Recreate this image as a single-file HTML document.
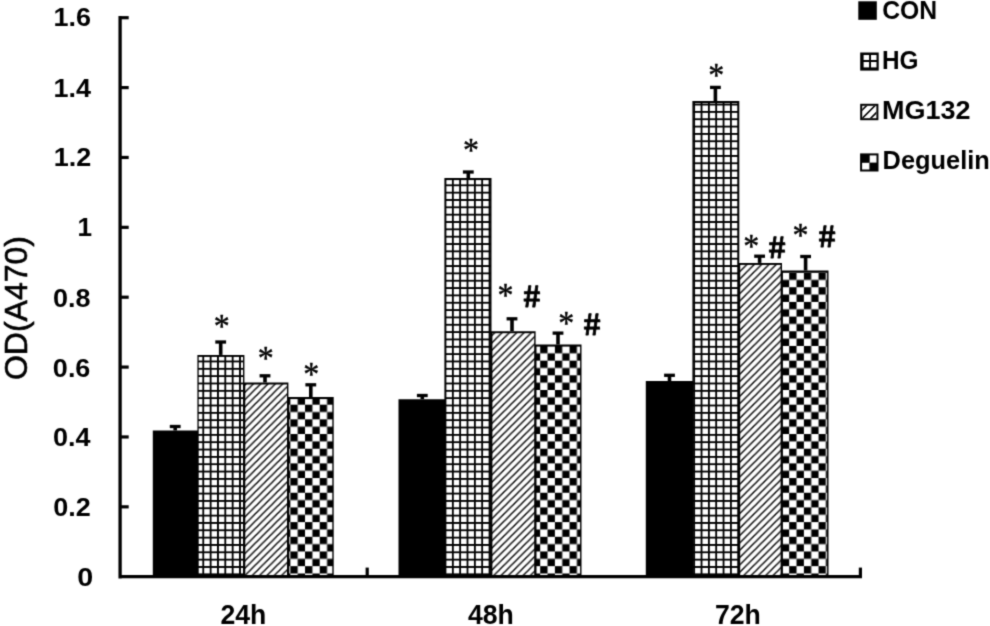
<!DOCTYPE html><html><head><meta charset="utf-8"><style>html,body{margin:0;padding:0;background:#fff;width:990px;height:626px;overflow:hidden}svg{display:block}</style></head><body>
<svg width="990" height="626" viewBox="0 0 990 626">
<filter id="soft" x="0" y="0" width="990" height="626" filterUnits="userSpaceOnUse" color-interpolation-filters="sRGB"><feConvolveMatrix order="3" kernelMatrix="0.03 0.1 0.03 0.1 0.48 0.1 0.03 0.1 0.03" edgeMode="duplicate"/></filter><g filter="url(#soft)">
<rect width="990" height="626" fill="#fff"/>
<defs>
<pattern id="p1" patternUnits="userSpaceOnUse" width="7.34" height="7.34" x="204.2" y="567.9"><rect width="7.34" height="7.34" fill="#000"/><rect width="5.5" height="5.5" fill="#fff"/></pattern>
<pattern id="p5" patternUnits="userSpaceOnUse" width="7.34" height="7.34" x="446.4" y="567.9"><rect width="7.34" height="7.34" fill="#000"/><rect width="5.5" height="5.5" fill="#fff"/></pattern>
<pattern id="p9" patternUnits="userSpaceOnUse" width="7.34" height="7.34" x="695.1" y="567.9"><rect width="7.34" height="7.34" fill="#000"/><rect width="5.5" height="5.5" fill="#fff"/></pattern>
<pattern id="p3" patternUnits="userSpaceOnUse" width="14.68" height="14.68" x="290.36" y="536.8"><rect width="14.68" height="14.68" fill="#fff"/><rect width="7.34" height="7.34" fill="#000"/><rect x="7.34" y="7.34" width="7.34" height="7.34" fill="#000"/></pattern>
<pattern id="p7" patternUnits="userSpaceOnUse" width="14.68" height="14.68" x="540.2" y="536.8"><rect width="14.68" height="14.68" fill="#fff"/><rect width="7.34" height="7.34" fill="#000"/><rect x="7.34" y="7.34" width="7.34" height="7.34" fill="#000"/></pattern>
<pattern id="p11" patternUnits="userSpaceOnUse" width="14.68" height="14.68" x="789.2" y="536.8"><rect width="14.68" height="14.68" fill="#fff"/><rect width="7.34" height="7.34" fill="#000"/><rect x="7.34" y="7.34" width="7.34" height="7.34" fill="#000"/></pattern>
<pattern id="p2" patternUnits="userSpaceOnUse" width="7.33" height="7.33" x="6.820" y="0"><rect width="7.33" height="7.33" fill="#fff"/><path d="M-2,9.33 L9.33,-2 M-2,2 L2,-2 M5.33,9.33 L9.33,5.33" stroke="#000" stroke-width="1.45" fill="none"/></pattern>
<pattern id="p6" patternUnits="userSpaceOnUse" width="7.33" height="7.33" x="6.410" y="0"><rect width="7.33" height="7.33" fill="#fff"/><path d="M-2,9.33 L9.33,-2 M-2,2 L2,-2 M5.33,9.33 L9.33,5.33" stroke="#000" stroke-width="1.45" fill="none"/></pattern>
<pattern id="p10" patternUnits="userSpaceOnUse" width="7.33" height="7.33" x="7.190" y="0"><rect width="7.33" height="7.33" fill="#fff"/><path d="M-2,9.33 L9.33,-2 M-2,2 L2,-2 M5.33,9.33 L9.33,5.33" stroke="#000" stroke-width="1.45" fill="none"/></pattern>
</defs>
<path d="M152.80,430.50H197.80V576.70H152.80ZM197.40,354.90H244.40V576.70H197.40ZM244.00,382.50H288.40V576.70H244.00ZM288.00,397.10H333.70V576.70H288.00ZM398.50,399.20H444.80V576.70H398.50ZM444.40,178.10H491.50V576.70H444.40ZM491.10,331.20H535.60V576.70H491.10ZM535.20,344.60H581.50V576.70H535.20ZM645.80,381.10H692.80V576.70H645.80ZM692.40,101.10H739.30V576.70H692.40ZM738.90,262.90H782.00V576.70H738.90ZM781.60,270.60H828.50V576.70H781.60Z" fill="#000"/>
<rect x="198.70" y="356.90" width="44.30" height="219.80" fill="url(#p1)"/>
<rect x="245.30" y="384.50" width="41.70" height="192.20" fill="url(#p2)"/>
<rect x="289.30" y="399.10" width="43.00" height="177.60" fill="url(#p3)"/>
<rect x="445.70" y="180.10" width="44.40" height="396.60" fill="url(#p5)"/>
<rect x="492.40" y="333.20" width="41.80" height="243.50" fill="url(#p6)"/>
<rect x="536.50" y="346.60" width="43.60" height="230.10" fill="url(#p7)"/>
<rect x="693.70" y="103.10" width="44.20" height="473.60" fill="url(#p9)"/>
<rect x="740.20" y="264.90" width="40.40" height="311.80" fill="url(#p10)"/>
<rect x="782.90" y="272.60" width="44.20" height="304.10" fill="url(#p11)"/>
<path d="M175.20,430.50 V426.50" stroke="#000" stroke-width="3.6" fill="none"/>
<path d="M169.80,426.50 H180.60" stroke="#000" stroke-width="3.3" fill="none"/>
<path d="M220.70,354.90 V342.00" stroke="#000" stroke-width="3.6" fill="none"/>
<path d="M215.30,342.00 H226.10" stroke="#000" stroke-width="3.3" fill="none"/>
<path d="M265.00,382.50 V375.80" stroke="#000" stroke-width="3.6" fill="none"/>
<path d="M259.60,375.80 H270.40" stroke="#000" stroke-width="3.3" fill="none"/>
<path d="M310.80,397.10 V384.80" stroke="#000" stroke-width="3.6" fill="none"/>
<path d="M305.40,384.80 H316.20" stroke="#000" stroke-width="3.3" fill="none"/>
<path d="M422.30,399.20 V395.50" stroke="#000" stroke-width="3.6" fill="none"/>
<path d="M416.90,395.50 H427.70" stroke="#000" stroke-width="3.3" fill="none"/>
<path d="M468.30,178.10 V172.00" stroke="#000" stroke-width="3.6" fill="none"/>
<path d="M462.90,172.00 H473.70" stroke="#000" stroke-width="3.3" fill="none"/>
<path d="M512.00,331.20 V318.80" stroke="#000" stroke-width="3.6" fill="none"/>
<path d="M506.60,318.80 H517.40" stroke="#000" stroke-width="3.3" fill="none"/>
<path d="M558.00,344.60 V333.10" stroke="#000" stroke-width="3.6" fill="none"/>
<path d="M552.60,333.10 H563.40" stroke="#000" stroke-width="3.3" fill="none"/>
<path d="M669.50,381.10 V375.30" stroke="#000" stroke-width="3.6" fill="none"/>
<path d="M664.10,375.30 H674.90" stroke="#000" stroke-width="3.3" fill="none"/>
<path d="M715.40,101.10 V87.40" stroke="#000" stroke-width="3.6" fill="none"/>
<path d="M710.00,87.40 H720.80" stroke="#000" stroke-width="3.3" fill="none"/>
<path d="M759.60,262.90 V256.20" stroke="#000" stroke-width="3.6" fill="none"/>
<path d="M754.20,256.20 H765.00" stroke="#000" stroke-width="3.3" fill="none"/>
<path d="M805.60,270.60 V256.50" stroke="#000" stroke-width="3.6" fill="none"/>
<path d="M800.20,256.50 H811.00" stroke="#000" stroke-width="3.3" fill="none"/>
<path d="M120.1,16 V578.5 M118.5,576.7 H862" stroke="#000" stroke-width="3.3" fill="none"/>
<path d="M120,506.83 H128.7" stroke="#000" stroke-width="3.2"/>
<path d="M120,436.95 H128.7" stroke="#000" stroke-width="3.2"/>
<path d="M120,367.08 H128.7" stroke="#000" stroke-width="3.2"/>
<path d="M120,297.20 H128.7" stroke="#000" stroke-width="3.2"/>
<path d="M120,227.33 H128.7" stroke="#000" stroke-width="3.2"/>
<path d="M120,157.45 H128.7" stroke="#000" stroke-width="3.2"/>
<path d="M120,87.58 H128.7" stroke="#000" stroke-width="3.2"/>
<path d="M120,17.70 H128.7" stroke="#000" stroke-width="3.2"/>
<path d="M367.2,576.7 V567.6" stroke="#000" stroke-width="3.2"/>
<path d="M860.4,576.7 V567.6" stroke="#000" stroke-width="3.2"/>
<rect x="858.3" y="1.3" width="18.5" height="18.5" fill="#000"/>
<rect x="860.2" y="52.5" width="18.5" height="18.1" fill="#000"/>
<rect x="863.6" y="55.0" width="5.5" height="5.0" fill="#fff"/>
<rect x="863.6" y="62.0" width="5.5" height="5.4" fill="#fff"/>
<rect x="871.0" y="55.0" width="5.5" height="5.0" fill="#fff"/>
<rect x="871.0" y="62.0" width="5.5" height="5.4" fill="#fff"/>
<clipPath id="mgc"><rect x="862.2" y="105.8" width="14.2" height="12.4"/></clipPath>
<rect x="861.2" y="104.8" width="16.2" height="14.4" fill="#fff" stroke="#000" stroke-width="2"/>
<g clip-path="url(#mgc)" stroke="#000" stroke-width="1.6"><path d="M850,122.2 L875,97.2 M858.6,122 L883.6,97 M867,122 L892,97"/></g>
<rect x="861.1" y="154.4" width="16.4" height="16.1" fill="#fff" stroke="#000" stroke-width="2"/>
<rect x="861.1" y="154.4" width="8.6" height="8.4" fill="#000"/><rect x="869.4" y="162.6" width="8.2" height="8" fill="#000"/>
<text id="y1.6" x="53.60" y="26.38" style="font-family:'Liberation Sans', Arial, sans-serif;font-weight:bold;font-size:25.35px" textLength="37.50" lengthAdjust="spacingAndGlyphs">1.6</text>
<text id="y1.4" x="53.48" y="96.67" style="font-family:'Liberation Sans', Arial, sans-serif;font-weight:bold;font-size:25.35px" textLength="37.50" lengthAdjust="spacingAndGlyphs">1.4</text>
<text id="y1.2" x="53.79" y="166.16" style="font-family:'Liberation Sans', Arial, sans-serif;font-weight:bold;font-size:25.35px" textLength="37.50" lengthAdjust="spacingAndGlyphs">1.2</text>
<text id="y1" x="77.54" y="235.50" style="font-family:'Liberation Sans', Arial, sans-serif;font-weight:bold;font-size:25.40px" textLength="14.54" lengthAdjust="spacingAndGlyphs">1</text>
<text id="y0.8" x="53.06" y="307.17" style="font-family:'Liberation Sans', Arial, sans-serif;font-weight:bold;font-size:25.35px" textLength="37.50" lengthAdjust="spacingAndGlyphs">0.8</text>
<text id="y0.6" x="52.89" y="377.04" style="font-family:'Liberation Sans', Arial, sans-serif;font-weight:bold;font-size:25.35px" textLength="37.50" lengthAdjust="spacingAndGlyphs">0.6</text>
<text id="y0.4" x="52.93" y="446.22" style="font-family:'Liberation Sans', Arial, sans-serif;font-weight:bold;font-size:25.35px" textLength="37.50" lengthAdjust="spacingAndGlyphs">0.4</text>
<text id="y0.2" x="53.33" y="516.18" style="font-family:'Liberation Sans', Arial, sans-serif;font-weight:bold;font-size:25.35px" textLength="37.50" lengthAdjust="spacingAndGlyphs">0.2</text>
<text id="y0" x="77.16" y="585.74" style="font-family:'Liberation Sans', Arial, sans-serif;font-weight:bold;font-size:24.96px" textLength="15.98" lengthAdjust="spacingAndGlyphs">0</text>
<text id="x24" x="220.50" y="624.20" style="font-family:'Liberation Sans', Arial, sans-serif;font-weight:bold;font-size:27.30px" textLength="45.90" lengthAdjust="spacingAndGlyphs">24h</text>
<text id="x48" x="467.93" y="624.21" style="font-family:'Liberation Sans', Arial, sans-serif;font-weight:bold;font-size:27.30px" textLength="45.90" lengthAdjust="spacingAndGlyphs">48h</text>
<text id="x72" x="714.92" y="624.45" style="font-family:'Liberation Sans', Arial, sans-serif;font-weight:bold;font-size:27.30px" textLength="45.90" lengthAdjust="spacingAndGlyphs">72h</text>
<text id="lCON" x="882.14" y="19.22" style="font-family:'Liberation Sans', Arial, sans-serif;font-weight:bold;font-size:26.50px" textLength="54.98" lengthAdjust="spacingAndGlyphs">CON</text>
<text id="lHG" x="882.05" y="69.06" style="font-family:'Liberation Sans', Arial, sans-serif;font-weight:bold;font-size:26.50px" textLength="36.49" lengthAdjust="spacingAndGlyphs">HG</text>
<text id="lMG" x="881.99" y="118.69" style="font-family:'Liberation Sans', Arial, sans-serif;font-weight:bold;font-size:26.50px" textLength="88.54" lengthAdjust="spacingAndGlyphs">MG132</text>
<text id="lDG" x="882.58" y="169.25" style="font-family:'Liberation Sans', Arial, sans-serif;font-weight:bold;font-size:26.50px" textLength="107.20" lengthAdjust="spacingAndGlyphs">Deguelin</text>
<text id="title" transform="translate(26.53,380.03) rotate(-90)" x="0" y="0" style="font-family:'Liberation Sans', Arial, sans-serif;font-weight:normal;font-size:31.51px;stroke:#000;stroke-width:0.6px;stroke-linejoin:round" textLength="143.97" lengthAdjust="spacingAndGlyphs">OD(A470)</text>
<text id="a0" x="213.63" y="337.20" style="font-family:'Liberation Serif', serif;font-weight:normal;font-size:33.90px;stroke:#000;stroke-width:0.45px;stroke-linejoin:round" textLength="16.00" lengthAdjust="spacingAndGlyphs">*</text>
<text id="a1" x="257.69" y="368.63" style="font-family:'Liberation Serif', serif;font-weight:normal;font-size:33.90px;stroke:#000;stroke-width:0.45px;stroke-linejoin:round" textLength="16.00" lengthAdjust="spacingAndGlyphs">*</text>
<text id="a2" x="303.23" y="384.77" style="font-family:'Liberation Serif', serif;font-weight:normal;font-size:33.90px;stroke:#000;stroke-width:0.45px;stroke-linejoin:round" textLength="16.00" lengthAdjust="spacingAndGlyphs">*</text>
<text id="a3" x="463.04" y="161.26" style="font-family:'Liberation Serif', serif;font-weight:normal;font-size:33.90px;stroke:#000;stroke-width:0.45px;stroke-linejoin:round" textLength="16.00" lengthAdjust="spacingAndGlyphs">*</text>
<text id="a4" x="497.60" y="306.06" style="font-family:'Liberation Serif', serif;font-weight:normal;font-size:33.90px;stroke:#000;stroke-width:0.45px;stroke-linejoin:round" textLength="16.00" lengthAdjust="spacingAndGlyphs">*</text>
<text id="a5" x="558.30" y="333.70" style="font-family:'Liberation Serif', serif;font-weight:normal;font-size:33.90px;stroke:#000;stroke-width:0.45px;stroke-linejoin:round" textLength="16.00" lengthAdjust="spacingAndGlyphs">*</text>
<text id="a6" x="708.30" y="86.11" style="font-family:'Liberation Serif', serif;font-weight:normal;font-size:33.90px;stroke:#000;stroke-width:0.45px;stroke-linejoin:round" textLength="16.00" lengthAdjust="spacingAndGlyphs">*</text>
<text id="a7" x="743.23" y="256.63" style="font-family:'Liberation Serif', serif;font-weight:normal;font-size:33.90px;stroke:#000;stroke-width:0.45px;stroke-linejoin:round" textLength="16.00" lengthAdjust="spacingAndGlyphs">*</text>
<text id="a8" x="792.46" y="245.68" style="font-family:'Liberation Serif', serif;font-weight:normal;font-size:33.90px;stroke:#000;stroke-width:0.45px;stroke-linejoin:round" textLength="16.00" lengthAdjust="spacingAndGlyphs">*</text>
<text id="h0" transform="translate(523.91,306.70) skewX(4)" x="0" y="0" style="font-family:'Liberation Sans', Arial, sans-serif;font-weight:bold;font-size:31.20px;stroke:#000;stroke-width:0.8px;stroke-linejoin:round" textLength="17.20" lengthAdjust="spacingAndGlyphs">#</text>
<text id="h1" transform="translate(584.32,334.65) skewX(4)" x="0" y="0" style="font-family:'Liberation Sans', Arial, sans-serif;font-weight:bold;font-size:31.20px;stroke:#000;stroke-width:0.8px;stroke-linejoin:round" textLength="17.20" lengthAdjust="spacingAndGlyphs">#</text>
<text id="h2" transform="translate(769.32,257.55) skewX(4)" x="0" y="0" style="font-family:'Liberation Sans', Arial, sans-serif;font-weight:bold;font-size:31.20px;stroke:#000;stroke-width:0.8px;stroke-linejoin:round" textLength="17.20" lengthAdjust="spacingAndGlyphs">#</text>
<text id="h3" transform="translate(819.17,246.70) skewX(4)" x="0" y="0" style="font-family:'Liberation Sans', Arial, sans-serif;font-weight:bold;font-size:31.20px;stroke:#000;stroke-width:0.8px;stroke-linejoin:round" textLength="17.20" lengthAdjust="spacingAndGlyphs">#</text>
</g>
</svg></body></html>
